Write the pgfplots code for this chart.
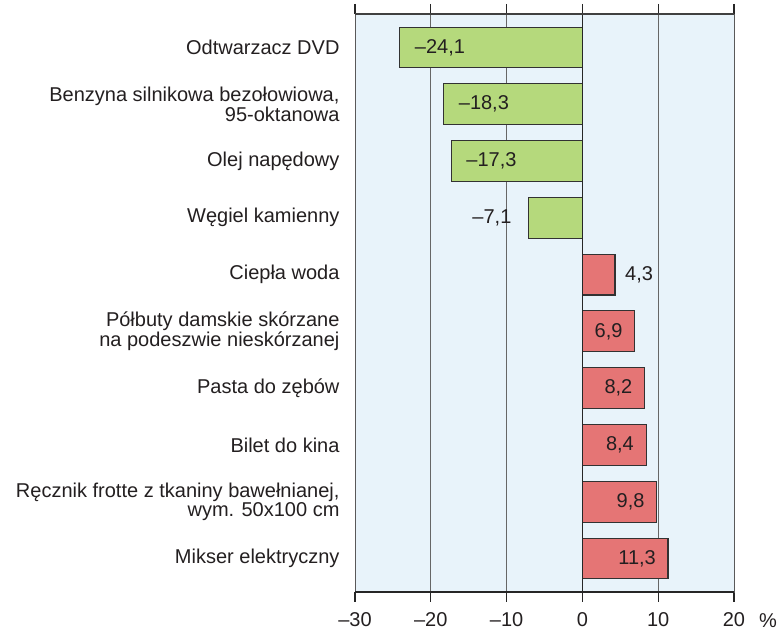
\documentclass[border=0pt]{standalone}
\usepackage{pgfplots}
\pgfplotsset{compat=1.18}
\usepackage{fontspec}
\setmainfont{Liberation Sans}
\definecolor{bgc}{RGB}{232,243,250}
\definecolor{gbar}{RGB}{181,217,124}
\definecolor{rbar}{RGB}{229,117,117}
\definecolor{txt}{RGB}{35,31,32}
\definecolor{edge}{RGB}{50,50,50}
\begin{document}
\begin{tikzpicture}
\begin{axis}[
  scale only axis, width=379bp, height=578bp,
  xmin=-30, xmax=20, ymin=-0.59, ymax=9.59,
  axis background/.style={fill=bgc},
  axis line style={draw=black!65, line width=0.9bp},
  font=\fontsize{20bp}{15.7bp}\selectfont,
  /pgf/number format/assume math mode=true,
  xtick={-30,-20,-10,0,10,20},
  xticklabels={–30,–20,–10,0,10,20},
  ytick={0,...,9},
  yticklabels={{Mikser elektryczny},
    {Ręcznik frotte z tkaniny bawełnianej,\\wym. 50x100 cm},
    {Bilet do kina},
    {Pasta do zębów},
    {Półbuty damskie skórzane\\na podeszwie nieskórzanej},
    {Ciepła woda},
    {Węgiel kamienny},
    {Olej napędowy},
    {Benzyna silnikowa bezołowiowa,\\95-oktanowa},
    {Odtwarzacz DVD}},
  yticklabel style={align=right, text=txt, xshift=-2bp, font=\fontsize{20bp}{15.7bp}\selectfont},
  xticklabel style={text=txt, font=\fontsize{20bp}{15.7bp}\selectfont, yshift=-7bp},
  tick align=outside,
  major tick length=10bp,
  xtick style={draw=black!85, line width=1.2bp},
  ytick style={draw=none},
  xmajorgrids,
  grid style={draw=black!60, line width=0.8bp},
  clip=false,
]
\addplot[xbar, bar shift=0pt, bar width=0.72, fill=gbar, draw=edge, line width=1.1bp]
  coordinates {(-24.1,9) (-18.3,8) (-17.3,7) (-7.1,6)};
\addplot[xbar, bar shift=0pt, bar width=0.72, fill=rbar, draw=edge, line width=1.1bp]
  coordinates {(4.3,5) (6.9,4) (8.2,3) (8.4,2) (9.8,1) (11.3,0)};
% labels inside negative bars
\addplot[only marks, mark=*, mark size=0pt, mark options={draw=none,fill=none},
  point meta=explicit symbolic, nodes near coords,
  nodes near coords style={anchor=west, inner sep=0pt, xshift=15bp, text=txt}]
  table[meta=l] {
x y l
-24.1 9 –24,1
-18.3 8 –18,3
-17.3 7 –17,3
};
\addplot[only marks, mark=*, mark size=0pt, mark options={draw=none,fill=none},
  point meta=explicit symbolic, nodes near coords,
  nodes near coords style={anchor=east, inner sep=0pt, xshift=-17bp, text=txt}]
  table[meta=l] {
x y l
-7.1 6 –7,1
};
\addplot[only marks, mark=*, mark size=0pt, mark options={draw=none,fill=none},
  point meta=explicit symbolic, nodes near coords,
  nodes near coords style={anchor=west, inner sep=0pt, xshift=10bp, text=txt}]
  table[meta=l] {
x y l
4.3 5 4,3
};
\addplot[only marks, mark=*, mark size=0pt, mark options={draw=none,fill=none},
  point meta=explicit symbolic, nodes near coords,
  nodes near coords style={anchor=east, inner sep=0pt, xshift=-12bp, text=txt}]
  table[meta=l] {
x y l
6.9 4 6,9
8.2 3 8,2
8.4 2 8,4
9.8 1 9,8
11.3 0 11,3
};
\draw[black!85, line width=1.5bp] (axis cs:0,-0.59) -- (axis cs:0,9.59);
\draw[black!85, line width=1.3bp] (axis cs:-30,-0.59) -- (axis cs:20,-0.59);
\draw[black!75, line width=1.1bp] (axis cs:-30,9.59) -- (axis cs:20,9.59);
\end{axis}
\node[anchor=base, inner sep=0pt, text=txt, font=\fontsize{20bp}{15.7bp}\selectfont] at ([xshift=34bp,yshift=-36bp]current axis.south east) {\%};
\pgfresetboundingbox
\path ([shift={(-355bp,-41bp)}]current axis.south west) rectangle ([shift={(45bp,14bp)}]current axis.north east);
\end{tikzpicture}
\end{document}
